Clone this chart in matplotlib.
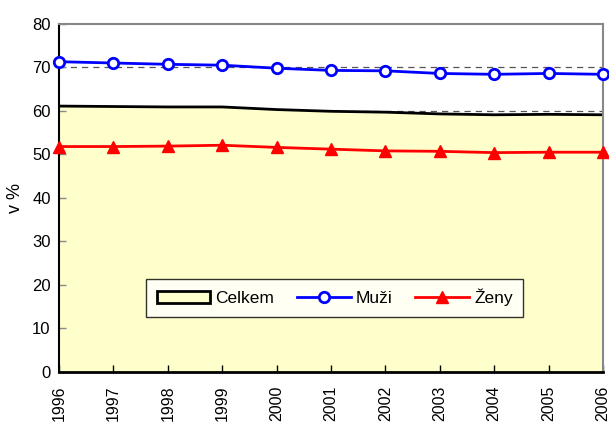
import matplotlib.pyplot as plt
from matplotlib.patches import Patch
from matplotlib.lines import Line2D

# data
years = [1996, 1997, 1998, 1999, 2000, 2001, 2002, 2003, 2004, 2005, 2006]
celkem = [61.1, 61.0, 60.9, 60.9, 60.3, 59.9, 59.7, 59.3, 59.1, 59.2, 59.1]
muzi = [71.3, 71.0, 70.7, 70.5, 69.8, 69.3, 69.2, 68.6, 68.4, 68.6, 68.4]
zeny = [51.8, 51.8, 51.9, 52.1, 51.6, 51.2, 50.8, 50.7, 50.4, 50.5, 50.5]
y_ticks = [0, 10, 20, 30, 40, 50, 60, 70, 80]

plt.rcParams['font.family'] = ['Liberation Sans', 'DejaVu Sans']

fig = plt.figure(figsize=(6.09, 4.26), dpi=100)
ax = fig.add_axes([0.097, 0.127, 0.893, 0.817])

# dashed grid behind everything
for t in y_ticks[1:-1]:
    ax.axhline(t, color='#555555', lw=0.9, ls=(0, (5, 4)), zorder=0)

ax.fill_between(years, 0, celkem, facecolor='#FFFFCC', edgecolor='none', zorder=1)
ax.plot(years, celkem, color='black', lw=2, zorder=2)
ax.plot([years[-1], years[-1]], [0, celkem[-1]], color='black', lw=2, zorder=2)

ax.plot(years, muzi, color='#0000FF', lw=2, marker='o', markersize=7.5,
        markerfacecolor='white', markeredgecolor='#0000FF', markeredgewidth=2,
        zorder=3, clip_on=False)
ax.plot(years, zeny, color='#FF0000', lw=2, marker='^', markersize=8,
        markerfacecolor='#FF0000', markeredgecolor='#FF0000', zorder=3, clip_on=False)

ax.set_xlim(1996, 2006)
ax.set_ylim(0, 80)
ax.set_yticks(y_ticks)
ax.set_xticks(years)
ax.set_xticklabels([str(y) for y in years], rotation=90, fontsize=11.5)
ax.tick_params(axis='y', labelsize=12, direction='in', length=5, width=1,
               color='#888888', pad=6)
ax.tick_params(axis='x', direction='in', length=5, width=1, pad=10)
ax.set_ylabel('v %', fontsize=13, labelpad=6)

ax.spines['top'].set_color('#888888')
ax.spines['right'].set_color('#888888')
ax.spines['left'].set_linewidth(1.5)
ax.spines['bottom'].set_linewidth(2)
ax.spines['top'].set_linewidth(1.5)
ax.spines['right'].set_linewidth(1.5)

# legend
handles = [
    Patch(facecolor='#FFFFCC', edgecolor='black', linewidth=2, label='Celkem'),
    Line2D([], [], color='#0000FF', lw=2, marker='o', markersize=7.5,
           markerfacecolor='white', markeredgewidth=2, label='Muži'),
    Line2D([], [], color='#FF0000', lw=2, marker='^', markersize=8, label='Ženy'),
]
leg = ax.legend(handles=handles, ncol=3, loc='lower left', bbox_to_anchor=(0.16, 0.158),
                fontsize=12.5, frameon=True, fancybox=False, edgecolor='black',
                handlelength=3.1, handletextpad=0.3, columnspacing=1.3,
                borderpad=0.6, borderaxespad=0)
leg.get_frame().set_linewidth(1)

fig.savefig('out.png', dpi=100)
